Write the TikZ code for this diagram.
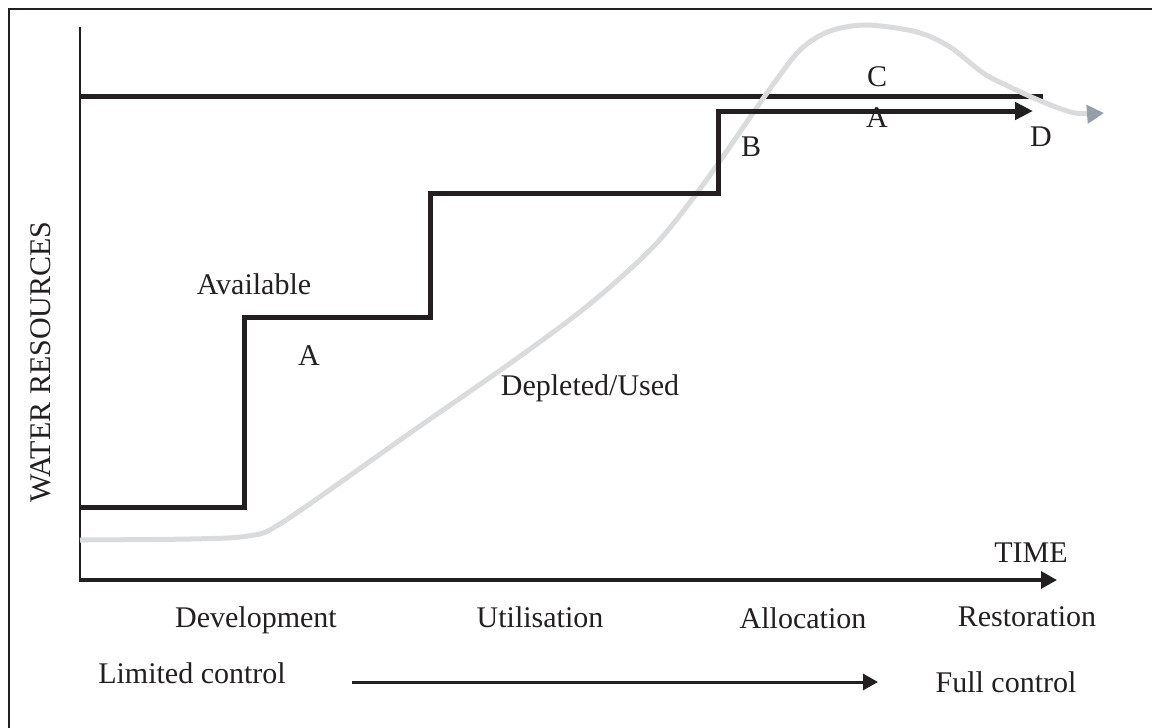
\documentclass[tikz,border=0pt]{standalone}
\usepackage{fontspec}
\setmainfont{Liberation Serif}
\usetikzlibrary{arrows.meta}
\definecolor{ink}{RGB}{35,31,32}
\definecolor{curvegray}{RGB}{218,219,221}
\definecolor{tipgray}{RGB}{150,158,168}
\begin{document}
\begin{tikzpicture}[x=1pt,y=-1pt,
  lbl/.style={inner sep=0pt, anchor=base, text=ink, font=\fontsize{30}{36}\selectfont},
  frameline/.style={draw=ink, line width=2pt},
  yaxisline/.style={draw=ink, line width=2.5pt},
  xaxisline/.style={draw=ink, line width=3.2pt, -{Triangle[length=16pt,width=17pt]}},
  stepline/.style={draw=ink, line width=5pt, line join=miter, -{Triangle[length=18pt,width=17pt]}},
  capline/.style={draw=ink, line width=5pt},
  usedcurve/.style={draw=curvegray, line width=5pt, -{Triangle[length=17pt,width=18pt,color=tipgray]}},
  ctrlarrow/.style={draw=ink, line width=3pt, -{Triangle[length=15pt,width=16pt]}}]
\useasboundingbox (0,0) rectangle (1152,728);
% frame
\coordinate (fbl) at (9,728);
\coordinate (ftl) at (9,9);
\coordinate (ftr) at (1152,9);
\draw[frameline] (fbl) -- (ftl) -- (ftr);
% axes
\coordinate (ytop) at (80,27);
\coordinate (orig) at (80,580);
\coordinate (xend) at (1057,580);
\draw[yaxisline] (ytop) -- ([yshift=-1.6pt]orig);
\draw[xaxisline] ([xshift=-1.25pt]orig) -- (xend);
% capacity line C
\coordinate (c0) at (80,96);
\coordinate (c1) at (1043,96);
\draw[capline] (c0) -- (c1);
% used curve
\draw[usedcurve] plot[smooth, tension=0.5] coordinates {(80,540) (190,539) (248,536) (283,522) (410,433) (519,357) (591,303) (655,245) (705,182) (767,93) (800,50) (830,31) (867,25) (917,32) (950,47) (983,73) (1010,87) (1043,102) (1075,113) (1104,113)};
% available step line
\coordinate (s0) at (80,507);
\coordinate (s1) at (244,317);
\coordinate (s2) at (430,193);
\coordinate (s3) at (718,111);
\coordinate (s4) at (1033,111);
\draw[stepline] (s0) -| (s1) -| (s2) -| (s3) -- (s4);
% labels
\node[lbl, rotate=90] (wr) at (50,362) {WATER RESOURCES};
\node[lbl] (avail) at (254,294) {Available};
\node[lbl] (a1) at (309,365) {A};
\node[lbl] (dep) at (590,395) {Depleted/Used};
\node[lbl] (b) at (751,156) {B};
\node[lbl] (c) at (877,86) {C};
\node[lbl] (a2) at (877,127) {A};
\node[lbl] (d) at (1041,146) {D};
\node[lbl] (time) at (1031,562) {TIME};
\node[lbl] (dev) at (256,627) {Development};
\node[lbl] (util) at (540,627) {Utilisation};
\node[lbl] (alloc) at (803,628) {Allocation};
\node[lbl] (rest) at (1027,626) {Restoration};
\node[lbl] (lim) at (192,683) {Limited control};
\node[lbl] (full) at (1006,692) {Full control};
% control arrow
\coordinate (k0) at (352,682);
\coordinate (k1) at (878,682);
\draw[ctrlarrow] (k0) -- (k1);
\end{tikzpicture}
\end{document}
